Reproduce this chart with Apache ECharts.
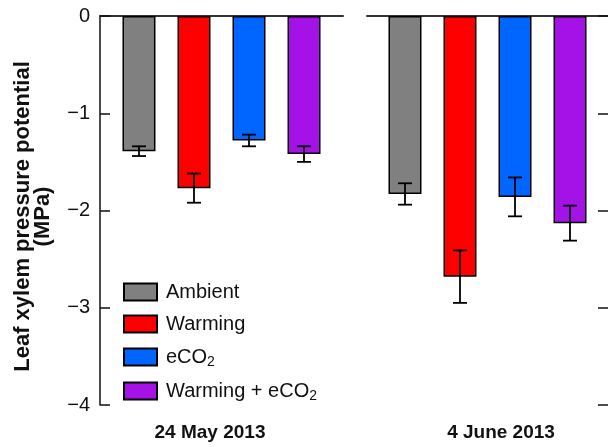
<!DOCTYPE html>
<html>
<head>
<meta charset="utf-8">
<script src="https://cdn.jsdelivr.net/npm/echarts@6/dist/echarts.min.js"></script>
<style>
  html, body { margin: 0; padding: 0; background: #fff; }
  #main { width: 608px; height: 447px; }
</style>
</head>
<body>
<div id="main"></div>
<script>
// Data
var dates = ['24 May 2013', '4 June 2013'];
var treatments = ['Ambient', 'Warming', 'eCO2', 'Warming + eCO2'];
var mayMeans = [-1.39, -1.77, -1.28, -1.42];
var mayErr = [0.05, 0.15, 0.06, 0.08];
var juneMeans = [-1.83, -2.68, -1.86, -2.13];
var juneErr = [0.11, 0.27, 0.20, 0.18];
var yTicks = [0, -1, -2, -3, -4];

var colors = ['#808080', '#ff0000', '#0066ff', '#a412e8'];
var FONT = 'Liberation Sans, Arial, sans-serif';
var BAR_W = 33, BAR_STEP = 55;

var chartDom = document.getElementById('main');
var myChart = echarts.init(chartDom);

function bottomAxis(grid, label, pad) {
  return {
    type: 'category', gridIndex: grid, position: 'bottom', data: [label],
    axisLine: { show: false }, axisTick: { show: false },
    axisLabel: {
      fontFamily: FONT, fontSize: 19, fontWeight: 'bold', color: '#111',
      margin: 18, padding: pad
    }
  };
}
function topAxis(grid, label) {
  return {
    type: 'category', gridIndex: grid, position: 'top', data: [label],
    axisLine: { show: true, onZero: false, lineStyle: { color: '#333', width: 2 } },
    axisTick: { show: false }, axisLabel: { show: false }
  };
}
function valueAxis(grid, pos, showLabels) {
  return {
    type: 'value', gridIndex: grid, position: pos,
    min: yTicks[yTicks.length - 1], max: yTicks[0], interval: 1,
    splitLine: { show: false },
    axisLine: { show: showLabels, lineStyle: { color: '#111', width: 1.5 } },
    axisTick: { show: true, inside: true, length: 10, lineStyle: { color: '#111', width: 1.5 } },
    axisLabel: {
      show: showLabels, fontFamily: FONT, fontSize: 20, color: '#111', margin: 10,
      formatter: function (v) { return v < 0 ? '\u2212' + Math.abs(v) : String(v); }
    }
  };
}

var series = [];
[mayMeans, juneMeans].forEach(function (means, g) {
  treatments.forEach(function (name, i) {
    series.push({
      name: name, type: 'bar', xAxisIndex: g * 2, yAxisIndex: g,
      data: [means[i]], barWidth: BAR_W, barGap: '66.7%',
      itemStyle: { color: colors[i], borderColor: '#000', borderWidth: 1.5 },
      emphasis: { disabled: true }, animation: false
    });
  });
});

[[mayMeans, mayErr], [juneMeans, juneErr]].forEach(function (pair, g) {
  var rows = pair[0].map(function (m, i) { return [0, m, pair[1][i], i]; });
  series.push({
    type: 'custom', xAxisIndex: g * 2, yAxisIndex: g, z: 5,
    data: rows, encode: { x: 0, y: 1 }, animation: false, silent: true,
    renderItem: function (params, api) {
      var m = api.value(1), e = api.value(2), idx = api.value(3);
      var dx = (idx - 1.5) * BAR_STEP;
      var lo = api.coord([0, m - e]), hi = api.coord([0, m + e]);
      var x = lo[0] + dx, cap = 7;
      var st = { stroke: '#000', lineWidth: 1.8 };
      return {
        type: 'group', children: [
          { type: 'line', shape: { x1: x, y1: lo[1], x2: x, y2: hi[1] }, style: st },
          { type: 'line', shape: { x1: x - cap, y1: lo[1], x2: x + cap, y2: lo[1] }, style: st },
          { type: 'line', shape: { x1: x - cap, y1: hi[1], x2: x + cap, y2: hi[1] }, style: st }
        ]
      };
    }
  });
});

var yLeft = valueAxis(0, 'left', true);
yLeft.name = 'Leaf xylem pressure potential\n(MPa)';
yLeft.nameLocation = 'middle';
yLeft.nameGap = 47;
yLeft.nameTextStyle = {
  fontFamily: FONT, fontSize: 22, fontWeight: 'bold', color: '#111',
  lineHeight: 20, padding: [0, 12, 0, 0]
};

var option = {
  backgroundColor: '#fff',
  textStyle: { fontFamily: FONT },
  grid: [
    { left: 100, top: 16, width: 243, height: 389 },
    { left: 367, top: 16, width: 244, height: 389 }
  ],
  legend: {
    data: treatments, orient: 'vertical', left: 123, top: 281, padding: 0,
    itemWidth: 33, itemHeight: 17, itemGap: 10, icon: 'rect',
    textStyle: {
      fontFamily: FONT, fontSize: 20, color: '#111', lineHeight: 22, padding: [0, 0, 0, 4],
      rich: { sub: { fontFamily: FONT, fontSize: 14, color: '#111', lineHeight: 12, padding: [10, 0, 0, 0] } }
    },
    formatter: function (n) { return n.replace('CO2', 'CO{sub|2}'); }
  },
  xAxis: [
    bottomAxis(0, dates[0], [0, 23, 0, 0]),
    topAxis(0, dates[0]),
    bottomAxis(1, dates[1], [0, 0, 0, 27]),
    topAxis(1, dates[1])
  ],
  yAxis: [yLeft, valueAxis(1, 'right', false)],
  series: series
};

myChart.setOption(option);
window.addEventListener('resize', function () { myChart.resize(); });
</script>
</body>
</html>
